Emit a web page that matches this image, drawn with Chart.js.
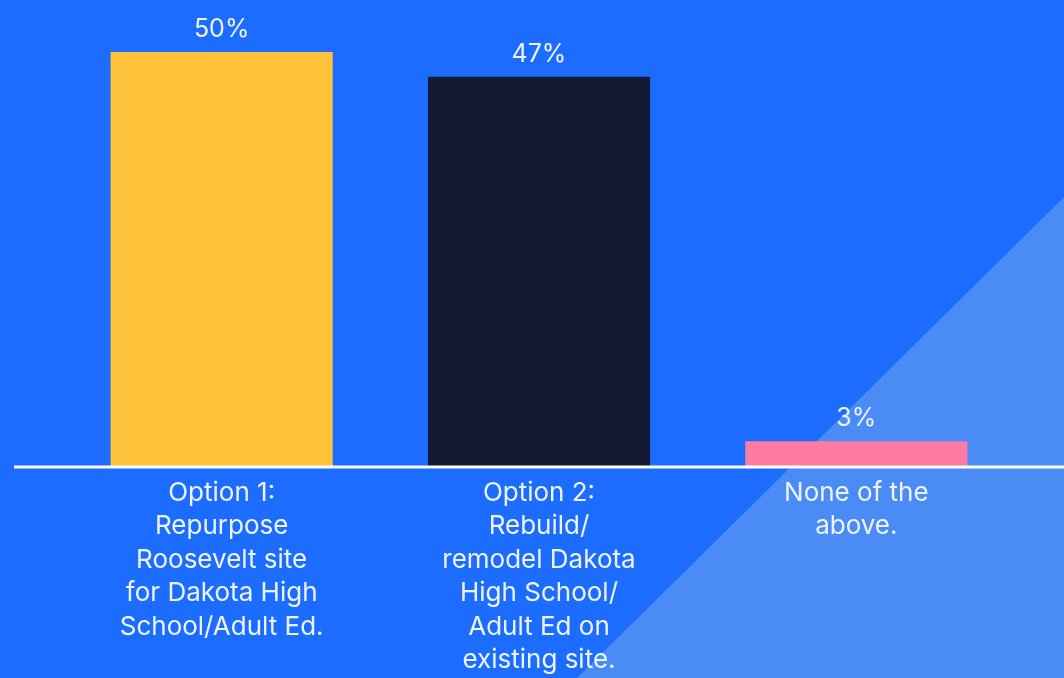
<!DOCTYPE html>
<html>
<head>
<meta charset="utf-8">
<script src="https://cdn.jsdelivr.net/npm/chart.js@4"></script>
<style>
  html, body { margin: 0; padding: 0; background: #1c6cff; }
  #wrap { width: 1064px; height: 678px; position: relative; }
</style>
</head>
<body>
<div id="wrap"><canvas id="chart"></canvas></div>
<script>
const categories = [
  ['Option 1:', 'Repurpose', 'Roosevelt site', 'for Dakota High', 'School/Adult Ed.'],
  ['Option 2:', 'Rebuild/', 'remodel Dakota', 'High School/', 'Adult Ed on', 'existing site.'],
  ['None of the', 'above.']
];
const values = [50, 47, 3];
const barColors = ['#ffc23a', '#141a33', '#ff7ba2'];

const BG = '#1c6cff';
const TRIANGLE = '#4a8bf6';
const TEXT = '#eef4ff';
const FONT = 'Inter, "Noto Sans", sans-serif';

const backdrop = {
  id: 'backdrop',
  beforeDraw(chart) {
    const { ctx, width, height } = chart;
    ctx.save();
    ctx.fillStyle = BG;
    ctx.fillRect(0, 0, width, height);
    ctx.fillStyle = TRIANGLE;
    ctx.beginPath();
    ctx.moveTo(577, height);
    ctx.lineTo(width, 197);
    ctx.lineTo(width, height);
    ctx.closePath();
    ctx.fill();
    ctx.restore();
  }
};

const labelsAndBase = {
  id: 'labelsAndBase',
  afterDatasetsDraw(chart) {
    const { ctx, width } = chart;
    const y0 = chart.scales.y.getPixelForValue(0);
    ctx.save();
    ctx.strokeStyle = '#ffffff';
    ctx.lineWidth = 3;
    ctx.beginPath();
    ctx.moveTo(14, y0 + 1);
    ctx.lineTo(width, y0 + 1);
    ctx.stroke();

    ctx.fillStyle = TEXT;
    ctx.font = '25px ' + FONT;
    ctx.textAlign = 'center';
    ctx.textBaseline = 'bottom';
    chart.getDatasetMeta(0).data.forEach((bar, i) => {
      ctx.fillText(values[i] + '%', bar.x, bar.y - 10);
    });
    ctx.restore();
  }
};

new Chart(document.getElementById('chart'), {
  type: 'bar',
  data: {
    labels: categories,
    datasets: [{
      data: values,
      backgroundColor: barColors,
      borderWidth: 0,
      barPercentage: 0.7,
      categoryPercentage: 1
    }]
  },
  options: {
    responsive: true,
    maintainAspectRatio: false,
    animation: false,
    layout: { padding: { top: 52, left: 63, right: 49, bottom: 0 } },
    plugins: { legend: { display: false }, tooltip: { enabled: false } },
    scales: {
      x: {
        grid: { display: false, drawTicks: false },
        border: { display: false },
        ticks: {
          color: TEXT,
          font: { family: FONT, size: 26, lineHeight: 1.29 },
          padding: 10,
          maxRotation: 0,
          autoSkip: false
        },
        afterFit(scale) { scale.height = 212; }
      },
      y: {
        display: false,
        min: 0,
        max: 50
      }
    }
  },
  plugins: [backdrop, labelsAndBase]
});
</script>
</body>
</html>
